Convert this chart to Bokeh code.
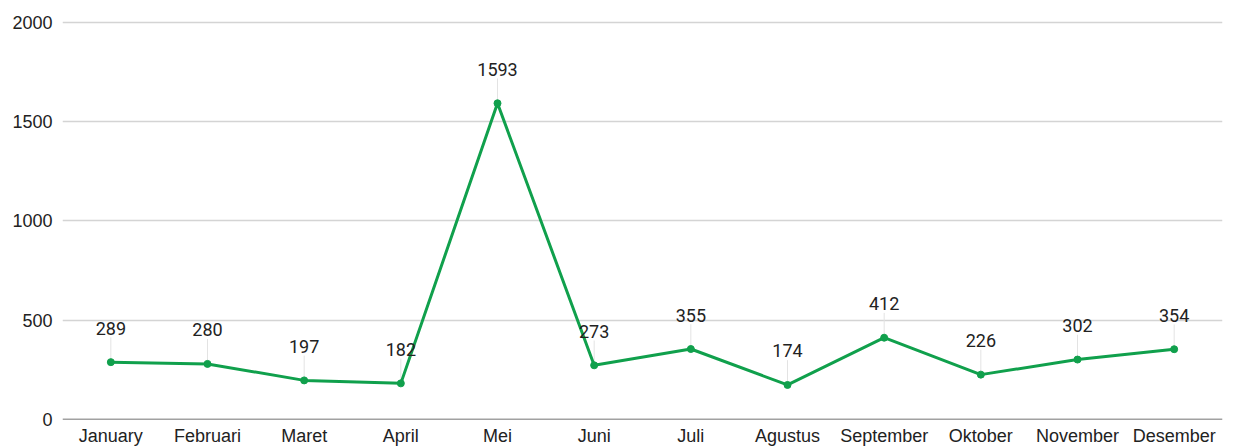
from bokeh.plotting import figure
from bokeh.models import ColumnDataSource, FactorRange, Range1d, FixedTicker, Span
from bokeh.embed import file_html
from bokeh.resources import INLINE
from bokeh.core.properties import value

months = ["January", "Februari", "Maret", "April", "Mei", "Juni", "Juli",
          "Agustus", "September", "Oktober", "November", "Desember"]
counts = [289, 280, 197, 182, 1593, 273, 355, 174, 412, 226, 302, 354]
y_ticks = [0, 500, 1000, 1500, 2000]

LEAD = 125  # leader-line length in data units (~25 px)
src = ColumnDataSource(dict(
    x=months, y=counts, lbl=[str(c) for c in counts],
    ytop=[c + LEAD for c in counts],
))

p = figure(width=1235, height=448, x_range=FactorRange(*months, range_padding=0),
           y_range=Range1d(0, 2010), output_backend="svg", toolbar_location=None,
           min_border_left=62, min_border_right=13, min_border_top=20, min_border_bottom=29)
p.outline_line_color = None
p.background_fill_color = "white"

p.xgrid.grid_line_color = None
p.ygrid.grid_line_color = "#d4d4d4"
p.ygrid.grid_line_width = 1.5
p.yaxis.ticker = FixedTicker(ticks=y_ticks)

p.yaxis.axis_line_color = None
p.yaxis.major_tick_line_color = None
p.yaxis.minor_tick_line_color = None
p.yaxis.major_tick_out = 0
p.yaxis.minor_tick_out = 0
p.yaxis.major_label_standoff = 10
p.yaxis.major_label_text_font = "Liberation Sans"
p.yaxis.major_label_text_font_size = "18px"
p.yaxis.major_label_text_color = "#222222"

p.xaxis.axis_line_color = None
p.xaxis.major_tick_line_color = None
p.xaxis.minor_tick_line_color = None
p.xaxis.major_tick_out = 0
p.xaxis.minor_tick_out = 0
p.xaxis.major_label_standoff = 6
p.xaxis.major_label_text_font = "Liberation Sans"
p.xaxis.major_label_text_font_size = "18px"
p.xaxis.major_label_text_color = "#222222"

p.add_layout(Span(location=0, dimension="width", line_color="#444444", line_width=1.5))

p.segment(x0="x", y0="y", x1="x", y1="ytop", source=src, line_color="#e3e3e3", line_width=1)
p.line(x="x", y="y", source=src, line_color="#10a04c", line_width=3)
p.scatter(x="x", y="y", source=src, size=7, fill_color="#10a04c", line_color="#10a04c")
p.text(x="x", y="y", text="lbl", source=src, y_offset=-34, text_align="center",
       text_baseline="middle", text_font=value("Roboto"), text_font_size="18px",
       text_color="#222222")

open("out.html", "w").write(file_html(p, INLINE))
